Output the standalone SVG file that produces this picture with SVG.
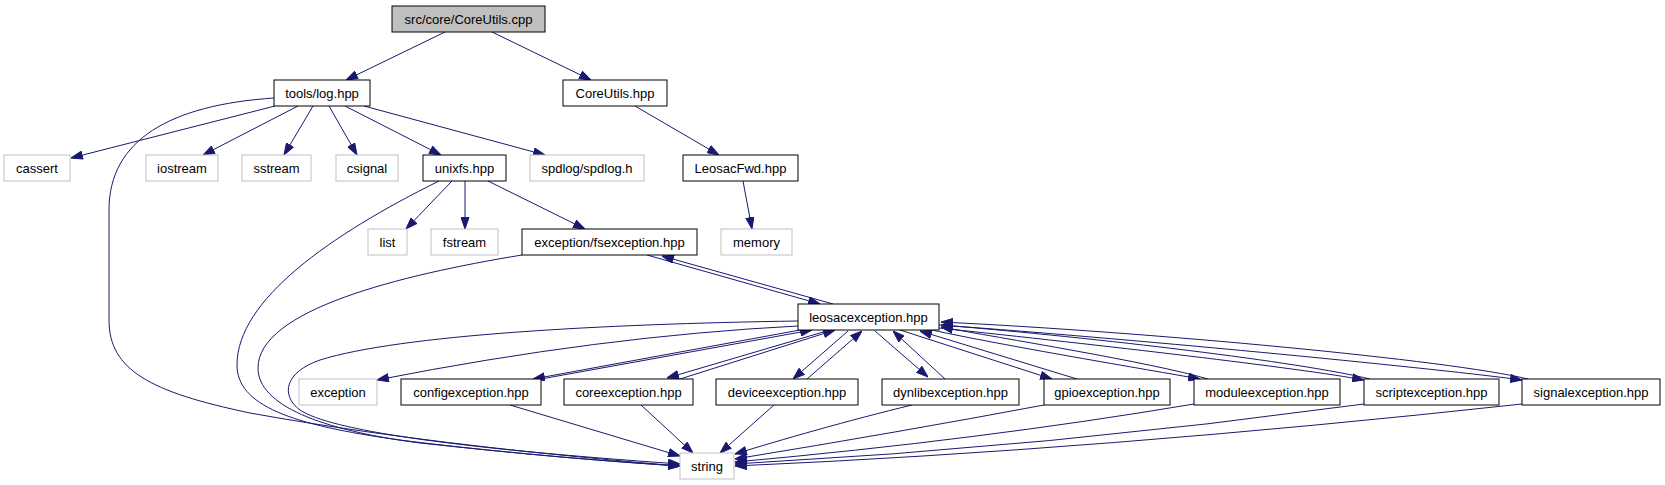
<svg xmlns="http://www.w3.org/2000/svg" width="1665" height="485" viewBox="0 0 1665 485">
<style>
.n rect{fill:#fff;stroke:#000;stroke-width:1}
.g rect{fill:#fff;stroke:#bfbfbf;stroke-width:1}
.r rect{fill:#bfbfbf;stroke:#000;stroke-width:1}
text{font-family:"Liberation Sans",Arial,sans-serif;font-size:13px;text-anchor:middle;fill:#000}
#edges path{fill:none;stroke:#191970;stroke-width:1;marker-end:url(#a)}
</style>
<defs>
<marker id="a" markerWidth="12" markerHeight="9" refX="12" refY="4.5" orient="auto" markerUnits="userSpaceOnUse">
<path d="M0.5,0.5 L12,4.5 L0.5,8.5 z" fill="#191970" stroke="#191970" stroke-width="1"/>
</marker>
</defs>
<rect width="1665" height="485" fill="#fff"/>
<g id="edges">
<path d="M445,32 L346,80"/>
<path d="M492,32 L591,80"/>
<path d="M275,106 L71,158"/>
<path d="M298,106 L203,155"/>
<path d="M313,106 L284,155"/>
<path d="M329,106 L357,155"/>
<path d="M345,106 L441,155"/>
<path d="M364,106 L545,155"/>
<path d="M274,98 C170,105 109,140 109,210 L109,320 C109,370 150,392 250,413 C400,440 560,456 680,466"/>
<path d="M635,106 L719,155"/>
<path d="M743,181 L752,229"/>
<path d="M452,181 L406,229"/>
<path d="M465,181 L465,229"/>
<path d="M488,181 L585,229"/>
<path d="M439,181 C330,235 237,300 237,365 C237,405 290,425 400,440 C520,455 620,462 680,466"/>
<path d="M522,255 C400,275 258,310 258,368 C258,405 320,430 420,443 C540,456 630,463 680,466"/>
<path d="M647,255 L820,304"/>
<path d="M833,304 L662,256"/>
<path d="M798,321 C600,324 400,335 320,360 C285,372 280,395 300,410 C330,430 450,448 680,464"/>
<path d="M798,326 Q600,336 377,380"/>
<path d="M800,330 L533,379"/>
<path d="M541,379 L812,330"/>
<path d="M830,330 L667,378"/>
<path d="M680,379 L835,330"/>
<path d="M848,331 L793,379"/>
<path d="M807,379 L862,331"/>
<path d="M875,331 L928,377"/>
<path d="M945,379 L893,331"/>
<path d="M900,330 L1052,379"/>
<path d="M1077,379 L920,331"/>
<path d="M932,330 C1000,345 1150,370 1200,379"/>
<path d="M1208,379 C1150,362 1000,338 941,327"/>
<path d="M939,328 C1100,345 1300,368 1364,380"/>
<path d="M1370,379 C1300,362 1100,338 941,325"/>
<path d="M939,325 C1150,340 1450,370 1522,380"/>
<path d="M1528,379 C1450,360 1150,332 941,322"/>
<path d="M510,405 L680,456"/>
<path d="M641,405 L693,453"/>
<path d="M774,405 L720,453"/>
<path d="M912,405 C850,420 780,440 735,454"/>
<path d="M1044,405 Q900,432 735,459"/>
<path d="M1194,404 Q980,440 735,462"/>
<path d="M1364,404 Q1050,447 735,464"/>
<path d="M1522,404 Q1100,450 735,466"/>
</g>
<g id="n_root" class="r"><rect x="392" y="6" width="153" height="26"/><text x="468.5" y="23.7">src/core/CoreUtils.cpp</text></g>
<g id="n_log" class="n"><rect x="274" y="80" width="96" height="26"/><text x="322" y="97.7">tools/log.hpp</text></g>
<g id="n_coreutilshpp" class="n"><rect x="563" y="80" width="104" height="26"/><text x="615" y="97.7">CoreUtils.hpp</text></g>
<g id="n_cassert" class="g"><rect x="4" y="155" width="66" height="26"/><text x="37" y="172.7">cassert</text></g>
<g id="n_iostream" class="g"><rect x="146" y="155" width="72" height="26"/><text x="182" y="172.7">iostream</text></g>
<g id="n_sstream" class="g"><rect x="242" y="155" width="69" height="26"/><text x="276.5" y="172.7">sstream</text></g>
<g id="n_csignal" class="g"><rect x="336" y="155" width="62" height="26"/><text x="367" y="172.7">csignal</text></g>
<g id="n_unixfs" class="n"><rect x="423" y="155" width="83" height="26"/><text x="464.5" y="172.7">unixfs.hpp</text></g>
<g id="n_spdlog" class="g"><rect x="530" y="155" width="114" height="26"/><text x="587" y="172.7">spdlog/spdlog.h</text></g>
<g id="n_leosacfwd" class="n"><rect x="683" y="155" width="115" height="26"/><text x="740.5" y="172.7">LeosacFwd.hpp</text></g>
<g id="n_list" class="g"><rect x="368" y="229" width="39" height="26"/><text x="387.5" y="246.7">list</text></g>
<g id="n_fstream" class="g"><rect x="431" y="229" width="67" height="26"/><text x="464.5" y="246.7">fstream</text></g>
<g id="n_fsexception" class="n"><rect x="522" y="229" width="175" height="26"/><text x="609.5" y="246.7">exception/fsexception.hpp</text></g>
<g id="n_memory" class="g"><rect x="721" y="229" width="71" height="26"/><text x="756.5" y="246.7">memory</text></g>
<g id="n_leosacexception" class="n"><rect x="798" y="304" width="141" height="26"/><text x="868.5" y="321.7">leosacexception.hpp</text></g>
<g id="n_exception" class="g"><rect x="299" y="379" width="78" height="26"/><text x="338" y="396.7">exception</text></g>
<g id="n_config" class="n"><rect x="401" y="379" width="140" height="26"/><text x="471" y="396.7">configexception.hpp</text></g>
<g id="n_core" class="n"><rect x="564" y="379" width="129" height="26"/><text x="628.5" y="396.7">coreexception.hpp</text></g>
<g id="n_device" class="n"><rect x="716" y="379" width="142" height="26"/><text x="787" y="396.7">deviceexception.hpp</text></g>
<g id="n_dynlib" class="n"><rect x="882" y="379" width="137" height="26"/><text x="950.5" y="396.7">dynlibexception.hpp</text></g>
<g id="n_gpio" class="n"><rect x="1044" y="379" width="126" height="26"/><text x="1107" y="396.7">gpioexception.hpp</text></g>
<g id="n_module" class="n"><rect x="1194" y="379" width="146" height="26"/><text x="1267" y="396.7">moduleexception.hpp</text></g>
<g id="n_script" class="n"><rect x="1364" y="379" width="135" height="26"/><text x="1431.5" y="396.7">scriptexception.hpp</text></g>
<g id="n_signal" class="n"><rect x="1522" y="379" width="138" height="26"/><text x="1591" y="396.7">signalexception.hpp</text></g>
<g id="n_string" class="g"><rect x="680" y="453" width="54" height="26"/><text x="707" y="470.7">string</text></g>
</svg>
